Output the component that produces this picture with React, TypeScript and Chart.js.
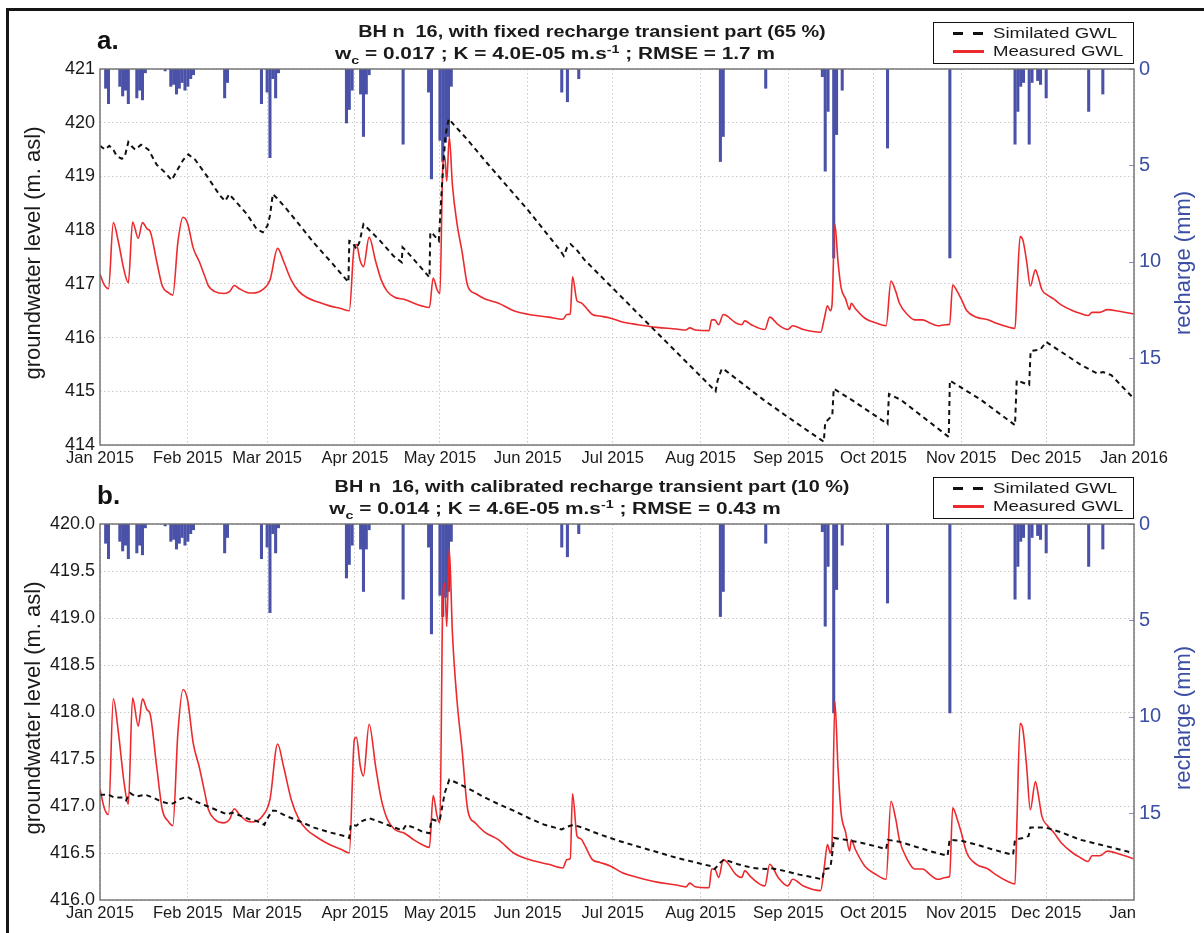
import React, { useEffect, useRef } from 'react';
import { Chart, registerables } from 'chart.js';

Chart.register(...registerables);

const FONT = '"Liberation Sans", Arial, Helvetica, sans-serif';

// ---------------- data ----------------
const monthStartDays = [0, 31, 59, 90, 120, 151, 181, 212, 243, 273, 304, 334, 365];
const monthLabelsA = ['Jan 2015', 'Feb 2015', 'Mar 2015', 'Apr 2015', 'May 2015', 'Jun 2015', 'Jul 2015', 'Aug 2015', 'Sep 2015', 'Oct 2015', 'Nov 2015', 'Dec 2015', 'Jan 2016'];
const monthLabelsB = ['Jan 2015', 'Feb 2015', 'Mar 2015', 'Apr 2015', 'May 2015', 'Jun 2015', 'Jul 2015', 'Aug 2015', 'Sep 2015', 'Oct 2015', 'Nov 2015', 'Dec 2015', 'Jan     '];

const gwlTicksA = [414, 415, 416, 417, 418, 419, 420, 421];
const gwlTicksB = [416, 416.5, 417, 417.5, 418, 418.5, 419, 419.5, 420];
const rechargeTicks = [0, 5, 10, 15];

// recharge (mm): [day of 2015, value]
const recharge: [number, number][] = [
  [2, 1.0], [3, 1.8], [7, 0.9], [8, 1.4], [9, 1.1], [10, 1.8], [13, 1.5], [14, 1.1], [15, 1.6], [16, 0.2],
  [23, 0.1], [25, 0.9], [26, 0.8], [27, 1.3], [28, 1.0], [29, 0.7], [30, 1.1], [31, 0.9], [32, 0.5], [33, 0.3],
  [44, 1.5], [45, 0.7], [57, 1.8], [59, 1.2], [60, 4.6], [61, 0.5], [62, 1.5], [63, 0.2],
  [87, 2.8], [88, 2.1], [89, 1.1], [92, 1.3], [93, 3.5], [94, 1.3], [95, 0.3],
  [107, 3.9], [116, 1.2], [117, 5.7], [120, 3.7], [121, 4.8], [122, 3.8], [123, 3.5], [124, 0.9],
  [163, 1.2], [165, 1.7], [169, 0.5],
  [219, 4.8], [220, 3.5], [235, 1.0],
  [255, 0.4], [256, 5.3], [257, 2.2], [259, 9.8], [260, 3.4], [262, 1.1],
  [278, 4.1], [300, 9.8],
  [323, 3.9], [324, 2.2], [325, 0.9], [326, 0.7], [328, 3.9], [329, 0.7], [331, 0.6], [332, 0.8], [334, 1.5],
  [349, 2.2], [354, 1.3],
];

// measured groundwater level (m asl)
const measuredGWL: [number, number][] = [
  [0, 417.18], [1.5, 416.98], [3, 416.91], [4.7, 418.14], [6.5, 417.78], [8.5, 417.25], [10, 417.02], [11.5, 418.15], [13.5, 417.85], [15, 418.14],
  [16.7, 418.02], [17.6, 417.99], [20, 417.42], [22, 416.96], [24, 416.84], [25.7, 416.79], [27.5, 417.78], [29.3, 418.24], [30.9, 418.13], [32.9, 417.67],
  [35, 417.42], [37, 417.14], [38.3, 416.96], [40.4, 416.86], [43.8, 416.82], [45.8, 416.86], [47.4, 416.97], [49.2, 416.91], [51.9, 416.84], [53.9, 416.83],
  [57.3, 416.89], [60, 417.07], [62.7, 417.66], [64.8, 417.42], [67.5, 417.07], [70.2, 416.86], [72.9, 416.75], [77, 416.66], [81, 416.59], [85, 416.54],
  [88, 416.5], [89.8, 417.71], [90.5, 417.73], [91.9, 417.42], [93, 417.32], [95, 417.87], [97.3, 417.42], [99.3, 417.07], [101.4, 416.86], [104, 416.75],
  [107.5, 416.71], [110.8, 416.64], [113.6, 416.59], [116.3, 416.56], [117.6, 417.11], [119, 416.89], [120, 416.82], [121, 419.19], [121.7, 419.37], [122.4, 418.91],
  [123.3, 419.74], [124.4, 418.84], [126, 418.13], [127.8, 417.6], [129.8, 416.96], [132.5, 416.82], [135.9, 416.72], [140.7, 416.64], [146, 416.5], [151.5, 416.43],
  [158.3, 416.38], [163.4, 416.34], [164.8, 416.43], [166, 416.44], [166.8, 417.13], [168.4, 416.68], [169.8, 416.65], [171, 416.59], [173.8, 416.43], [176.5, 416.4],
  [180.3, 416.36], [184.4, 416.29], [189.8, 416.24], [196.6, 416.19], [203.4, 416.16], [206.8, 416.14], [208.2, 416.18], [210.2, 416.14], [215, 416.13], [215.9, 416.33],
  [217, 416.33], [218.4, 416.24], [220, 416.43], [221.1, 416.41], [224.5, 416.27], [226.5, 416.24], [227.6, 416.31], [229.9, 416.24], [234.7, 416.15], [236.4, 416.38],
  [239.4, 416.24], [242.8, 416.15], [244.5, 416.22], [248.3, 416.15], [254.4, 416.1], [255.7, 416.36], [256.8, 416.59], [257.8, 416.5], [258.4, 416.61], [259.4, 418.11],
  [260.5, 417.42], [261.6, 416.93], [263.2, 416.72], [264.6, 416.52], [265.2, 416.64], [266.6, 416.54], [270, 416.36], [274, 416.27], [277.5, 416.22], [279.2, 417.05],
  [280.9, 416.86], [282.2, 416.64], [285, 416.43], [287.6, 416.33], [290.4, 416.33], [293, 416.27], [295.8, 416.22], [298.5, 416.24], [299.9, 416.25], [301, 416.98],
  [302.6, 416.86], [304, 416.72], [306, 416.5], [309.4, 416.38], [313.5, 416.33], [316.2, 416.27], [320.3, 416.2], [323, 416.17], [323.7, 416.86], [324.8, 417.88],
  [325.8, 417.81], [327.1, 417.42], [328.4, 416.96], [330.2, 417.26], [331.1, 417.14], [332.5, 416.89], [334.5, 416.79], [336.6, 416.72], [339.3, 416.61], [343.4, 416.5],
  [346.1, 416.45], [348.8, 416.41], [350.2, 416.47], [352.9, 416.47], [355.6, 416.52], [359.7, 416.49], [364.8, 416.44],
];

// simulated GWL, fixed recharge transient part (panel a)
const simulatedGWLA: [number, number][] = [
  [0, 419.57], [1.8, 419.5], [3.3, 419.57], [4.7, 419.5], [5.9, 419.38], [7.7, 419.33], [8.8, 419.38], [10, 419.64], [11.2, 419.56], [12.4, 419.5],
  [13.6, 419.55], [14.5, 419.59], [15.7, 419.55], [17.1, 419.5], [20, 419.22], [23, 419.07], [25.3, 418.93], [27.1, 419.1], [29.4, 419.31], [31.2, 419.41],
  [33.6, 419.31], [37.7, 419.01], [42.4, 418.64], [44.2, 418.54], [45.6, 418.67], [48.3, 418.51], [51.8, 418.3], [55.3, 418.02], [57.5, 417.96], [59.1, 418.08],
  [60, 418.27], [61, 418.67], [62.4, 418.6], [65.9, 418.39], [70.7, 418.08], [75.4, 417.77], [82, 417.38], [87.7, 417.03], [88, 417.8], [89, 417.78],
  [90.5, 417.65], [91.6, 417.78], [93, 418.11], [94.2, 418.05], [98.9, 417.8], [103.6, 417.52], [106.5, 417.4], [106.8, 417.68], [108, 417.62], [110.7, 417.46],
  [116.3, 417.12], [116.6, 417.96], [117.5, 417.93], [119.6, 417.8], [120.7, 418.82], [121.9, 419.75], [123.1, 420.07], [129.6, 419.69], [136.6, 419.25], [143.7, 418.82],
  [150.8, 418.39], [157.8, 417.93], [162.5, 417.62], [163.7, 417.52], [164.9, 417.68], [166.1, 417.74], [168.5, 417.62], [170.8, 417.46], [181, 416.92], [194, 416.23],
  [205, 415.65], [217.3, 415.0], [218, 415.2], [219.5, 415.42], [220.5, 415.4], [234, 414.85], [242, 414.55], [255.5, 414.06], [256, 414.42], [258.5, 414.55],
  [259, 415.05], [266.5, 414.8], [278, 414.39], [278.5, 414.95], [282.7, 414.84], [299.6, 414.15], [300, 415.2], [311, 414.84], [323, 414.37], [323.6, 415.2],
  [328, 415.12], [328.5, 415.75], [332, 415.78], [334, 415.92], [346, 415.5], [352, 415.33], [354, 415.36], [357, 415.3], [365, 414.86],
];

// simulated GWL, calibrated recharge transient part (panel b)
const simulatedGWLB: [number, number][] = [
  [0, 417.12], [3, 417.12], [5, 417.09], [8, 417.09], [9.2, 417.06], [10.6, 417.14], [12.6, 417.1], [16, 417.12], [18.7, 417.09], [21.4, 417.05],
  [24.8, 417.02], [26, 417.03], [28, 417.07], [30.6, 417.1], [33.6, 417.05], [37.7, 417.0], [41.7, 416.95], [45, 416.91], [46.5, 416.93], [48.5, 416.91],
  [52.6, 416.86], [55.3, 416.84], [58, 416.8], [59, 416.86], [60.7, 416.95], [62, 416.95], [66, 416.89], [70.2, 416.84], [75.6, 416.77], [81, 416.72],
  [86.4, 416.68], [88, 416.66], [88.5, 416.8], [90.5, 416.79], [92.5, 416.84], [95, 416.87], [97.9, 416.84], [101.4, 416.8], [104, 416.77], [106.8, 416.74],
  [108.1, 416.8], [110.8, 416.77], [113.6, 416.73], [116.3, 416.71], [117, 416.86], [119, 416.84], [120, 416.86], [121.7, 417.14], [123.3, 417.28], [125.7, 417.25],
  [129.8, 417.19], [135.2, 417.1], [140.7, 417.02], [146, 416.95], [151.5, 416.87], [156.9, 416.8], [163, 416.75], [165, 416.78], [167, 416.8], [170.3, 416.77],
  [176.2, 416.7], [183, 416.63], [189.8, 416.57], [196.6, 416.51], [203.4, 416.45], [210.2, 416.4], [215.6, 416.36], [217, 416.33], [219, 416.4], [220.4, 416.43],
  [225.2, 416.38], [230.6, 416.34], [235, 416.33], [236.7, 416.34], [241.5, 416.31], [246.9, 416.27], [255, 416.22], [255.7, 416.33], [257.8, 416.34], [258.4, 416.47],
  [259.1, 416.66], [263.2, 416.64], [268.6, 416.61], [274, 416.57], [277.5, 416.54], [278.1, 416.64], [282.2, 416.62], [287.6, 416.57], [293, 416.52], [299.2, 416.47],
  [299.9, 416.64], [304, 416.63], [309.4, 416.59], [314.8, 416.54], [322.3, 416.48], [323, 416.64], [325.8, 416.66], [327.8, 416.68], [328.4, 416.77], [333.9, 416.77],
  [339.3, 416.72], [346.1, 416.64], [352.9, 416.59], [364.8, 416.5],
];

// ---------------- layout ----------------
const W = 1204;
const PANEL_H = 476;
const PLOT_TOP = 69;
const PLOT_BOTTOM = 445;
const PLOT_LEFT = 100;
const PLOT_RIGHT = 1134;
const BLUE = '#3b4ea3';
const BAR_BLUE = '#4a51a8';
const RED = '#ec2a2d';
const GRID = '#c9c9c9';

type PanelCfg = {
  top: number;
  letter: string;
  title: string;
  wc: string;
  k: string;
  rmse: string;
  yMin: number;
  yMax: number;
  yTicks: number[];
  decimals: number;
  simulated: [number, number][];
  xLabels: string[];
};

const toXY = (arr: [number, number][]) => arr.map(([x, y]) => ({ x, y }));

const decorPlugin = {
  id: 'decor',
  afterDraw(chart: any) {
    const { ctx, chartArea } = chart;
    const { left, right, top, bottom } = chartArea;
    ctx.save();
    const y2 = chart.scales.y2;
    ctx.strokeStyle = '#8890c0';
    ctx.lineWidth = 1;
    rechargeTicks.forEach((v) => {
      const py = Math.round(y2.getPixelForValue(v)) + 0.5;
      ctx.beginPath();
      ctx.moveTo(right - 5, py);
      ctx.lineTo(right, py);
      ctx.stroke();
    });
    ctx.strokeStyle = '#6e6e6e';
    ctx.lineWidth = 1.4;
    ctx.strokeRect(left, top, right - left, bottom - top);

    ctx.font = `22px ${FONT}`;
    ctx.textAlign = 'center';
    ctx.textBaseline = 'middle';
    ctx.fillStyle = '#1a1a1a';
    ctx.save();
    ctx.translate(34, (top + bottom) / 2 - 4);
    ctx.rotate(-Math.PI / 2);
    ctx.fillText('groundwater level (m. asl)', 0, 0);
    ctx.restore();
    ctx.fillStyle = BLUE;
    ctx.save();
    ctx.translate(1184, (top + bottom) / 2 + 6);
    ctx.rotate(-Math.PI / 2);
    ctx.fillText('recharge (mm)', 0, 0);
    ctx.restore();
    ctx.restore();
  },
};

function Panel({ cfg }: { cfg: PanelCfg }) {
  const ref = useRef<HTMLCanvasElement | null>(null);

  useEffect(() => {
    if (!ref.current) return;
    const chart = new Chart(ref.current, {
      type: 'line',
      data: {
        datasets: [
          {
            type: 'line',
            label: 'Similated GWL',
            data: toXY(cfg.simulated),
            yAxisID: 'y',
            borderColor: '#111111',
            borderWidth: 2,
            borderDash: [5, 4],
            pointRadius: 0,
            fill: false,
            tension: 0,
            order: 0,
          },
          {
            type: 'line',
            label: 'Measured GWL',
            data: toXY(measuredGWL),
            yAxisID: 'y',
            borderColor: RED,
            borderWidth: 1.6,
            pointRadius: 0,
            fill: false,
            cubicInterpolationMode: 'monotone',
            order: 1,
          },
          {
            type: 'bar',
            label: 'recharge',
            data: toXY(recharge),
            yAxisID: 'y2',
            backgroundColor: BAR_BLUE,
            borderWidth: 0,
            barThickness: 2.4,
            order: 2,
          },
        ] as any,
      },
      options: {
        animation: false,
        responsive: false,
        maintainAspectRatio: false,
        devicePixelRatio: 1,
        layout: { padding: { top: PLOT_TOP, left: 0, right: 0, bottom: 0 } },
        plugins: {
          legend: { display: false },
          tooltip: { enabled: false },
          title: { display: false },
        },
        scales: {
          x: {
            type: 'linear',
            min: 0,
            max: 365,
            offset: false,
            afterBuildTicks: (s: any) => {
              s.ticks = monthStartDays.map((v) => ({ value: v }));
            },
            afterFit: (s: any) => {
              s.height = PANEL_H - PLOT_BOTTOM;
            },
            grid: { color: GRID, lineWidth: 1, drawTicks: false, offset: false },
            border: { display: false, dash: [1.5, 2.5] },
            ticks: {
              autoSkip: false,
              maxRotation: 0,
              minRotation: 0,
              padding: 4,
              color: '#1a1a1a',
              font: { family: FONT, size: 16.5 },
              callback: (_v: any, i: number) => cfg.xLabels[i],
            },
          },
          y: {
            type: 'linear',
            position: 'left',
            min: cfg.yMin,
            max: cfg.yMax,
            afterBuildTicks: (s: any) => {
              s.ticks = cfg.yTicks.map((v) => ({ value: v }));
            },
            afterFit: (s: any) => {
              s.width = PLOT_LEFT;
            },
            grid: { color: GRID, lineWidth: 1, drawTicks: false },
            border: { display: false, dash: [1.5, 2.5] },
            ticks: {
              padding: 5,
              color: '#1a1a1a',
              font: { family: FONT, size: 18 },
              callback: (v: any) => Number(v).toFixed(cfg.decimals),
            },
          },
          y2: {
            type: 'linear',
            position: 'right',
            reverse: true,
            min: 0,
            max: 19.5,
            afterBuildTicks: (s: any) => {
              s.ticks = rechargeTicks.map((v) => ({ value: v }));
            },
            afterFit: (s: any) => {
              s.width = W - PLOT_RIGHT;
            },
            grid: { display: false, drawOnChartArea: false, drawTicks: false },
            border: { display: false },
            ticks: {
              padding: 5,
              color: BLUE,
              font: { family: FONT, size: 20 },
            },
          },
        },
      } as any,
      plugins: [decorPlugin],
    });
    return () => chart.destroy();
  }, []);

  const subStyle: React.CSSProperties = { fontSize: '11px', position: 'relative', top: '5px' };
  const supStyle: React.CSSProperties = { fontSize: '11px', position: 'relative', top: '-6px' };

  return (
    <div style={{ position: 'absolute', left: 0, top: cfg.top, width: W, height: PANEL_H }}>
      <canvas
        ref={ref}
        width={W}
        height={PANEL_H}
        style={{ position: 'absolute', left: 0, top: 0, width: W, height: PANEL_H }}
      />
      <div
        style={{
          position: 'absolute', left: 97, top: 27, font: `bold 26px ${FONT}`, lineHeight: '26px', color: '#111',
        }}
      >
        {cfg.letter}
      </div>
      <div
        style={{
          position: 'absolute', left: 592, top: 23, transform: 'translateX(-50%) scaleX(1.24)',
          font: `bold 16px ${FONT}`, lineHeight: '17px', whiteSpace: 'pre', color: '#1a1a1a',
        }}
      >
        {cfg.title}
      </div>
      <div
        style={{
          position: 'absolute', left: 555, top: 45, transform: 'translateX(-50%) scaleX(1.3)',
          font: `bold 16px ${FONT}`, lineHeight: '17px', whiteSpace: 'pre', color: '#1a1a1a',
        }}
      >
        w<span style={subStyle}>c</span>{` = ${cfg.wc} ; K = ${cfg.k} m.s`}<span style={supStyle}>-1</span>{` ; RMSE = ${cfg.rmse}`}
      </div>
      <div
        style={{
          position: 'absolute', left: 933, top: 22, width: 201, height: 42, boxSizing: 'border-box',
          border: '1.5px solid #111', background: '#fff',
        }}
      >
        <div style={{ position: 'absolute', left: 18.5, top: 9, width: 10, height: 2.5, background: '#111' }} />
        <div style={{ position: 'absolute', left: 38.5, top: 9, width: 10, height: 2.5, background: '#111' }} />
        <div
          style={{
            position: 'absolute', left: 58.5, top: 1, font: `15.5px ${FONT}`, lineHeight: '18px',
            transform: 'scaleX(1.2)', transformOrigin: 'left center', whiteSpace: 'nowrap', color: '#1a1a1a',
          }}
        >
          Similated GWL
        </div>
        <div style={{ position: 'absolute', left: 18.5, top: 27, width: 31, height: 2.5, background: RED }} />
        <div
          style={{
            position: 'absolute', left: 58.5, top: 19, font: `15.5px ${FONT}`, lineHeight: '18px',
            transform: 'scaleX(1.2)', transformOrigin: 'left center', whiteSpace: 'nowrap', color: '#1a1a1a',
          }}
        >
          Measured GWL
        </div>
      </div>
    </div>
  );
}

const panelA: PanelCfg = {
  top: 0,
  letter: 'a.',
  title: 'BH n  16, with fixed recharge transient part (65 %)',
  wc: '0.017',
  k: '4.0E-05',
  rmse: '1.7 m',
  yMin: 414,
  yMax: 421,
  yTicks: gwlTicksA,
  decimals: 0,
  simulated: simulatedGWLA,
  xLabels: monthLabelsA,
};

const panelB: PanelCfg = {
  top: 455,
  letter: 'b.',
  title: 'BH n  16, with calibrated recharge transient part (10 %)',
  wc: '0.014',
  k: '4.6E-05',
  rmse: '0.43 m',
  yMin: 416,
  yMax: 420,
  yTicks: gwlTicksB,
  decimals: 1,
  simulated: simulatedGWLB,
  xLabels: monthLabelsB,
};

export default function App() {
  return (
    <div
      style={{
        position: 'fixed', left: 0, top: 0, width: W, height: 933, background: '#fff', overflow: 'hidden',
        fontFamily: FONT,
      }}
    >
      <div
        style={{
          position: 'absolute', left: 6, top: 8, width: W, height: 940,
          borderLeft: '3px solid #151515', borderTop: '3px solid #151515',
        }}
      />
      <Panel cfg={panelA} />
      <Panel cfg={panelB} />
    </div>
  );
}
